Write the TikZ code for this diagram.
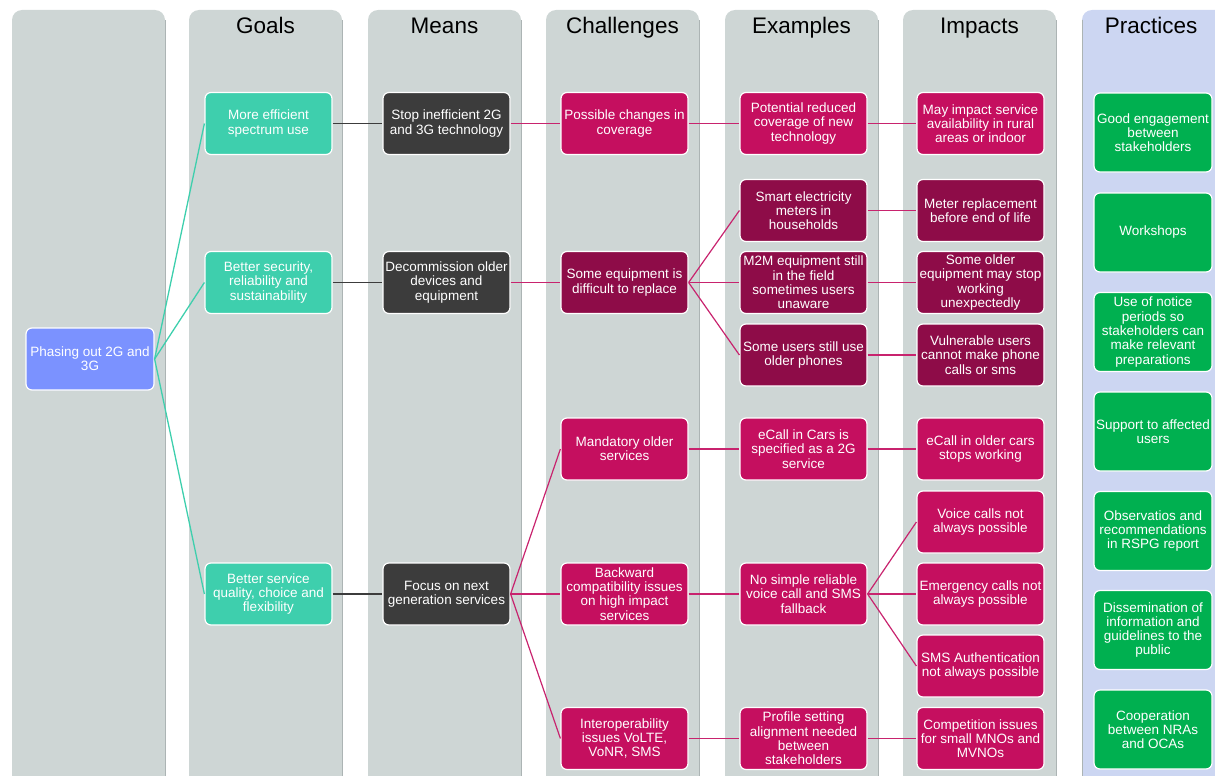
\documentclass[tikz,border=0pt]{standalone}
\usepackage{fontspec}
\setmainfont{Liberation Sans}
\usepackage{tikz}
\definecolor{col}{RGB}{206,214,213}
\definecolor{coledge}{RGB}{172,180,180}
\definecolor{pract}{RGB}{204,214,242}
\definecolor{phasecol}{RGB}{123,146,255}
\definecolor{goalcol}{RGB}{62,207,173}
\definecolor{meancol}{RGB}{60,60,60}
\definecolor{magcol}{RGB}{197,15,95}
\definecolor{maroon}{RGB}{142,12,72}
\definecolor{goodcol}{RGB}{0,176,80}
\definecolor{linkcol}{RGB}{200,35,110}
\newcommand{\drawcolumn}[3]{
    \fill[#2, rounded corners=10pt] (#1,776) -- (#1,10) -- (#1+153,10) -- (#1+153,776);
    \draw[coledge, line width=0.8pt] (#1+153,20) -- (#1+153,776);
    \node[anchor=base, font=\fontsize{22.5}{27}\selectfont] at (#1+76.5,33.5) {#3};
}
\tikzset{
    box/.style={rounded corners=6pt, draw=white, line width=1.2pt, text=white, align=center,
        inner sep=1pt, minimum width=127pt, minimum height=62pt, font=\fontsize{13.5}{14.3}\selectfont},
    phasebox/.style={box, fill=phasecol, minimum width=128pt},
    goalbox/.style={box, fill=goalcol},
    meanbox/.style={box, fill=meancol},
    magbox/.style={box, fill=magcol},
    eqbox/.style={box, fill=maroon},
    goodbox/.style={box, fill=goodcol, minimum width=118pt, minimum height=79pt},
    tealline/.style={goalcol, line width=1.3pt},
    greyline/.style={meancol, line width=1.3pt},
    magline/.style={linkcol, line width=1.2pt}
}

\begin{document}
\begin{tikzpicture}[x=1pt, y=-1pt]
\useasboundingbox (0,0) rectangle (1215,776);
\clip (0,0) rectangle (1215,776);
\drawcolumn{12}{col}{}
\drawcolumn{189}{col}{Goals}
\drawcolumn{368}{col}{Means}
\drawcolumn{546}{col}{Challenges}
\drawcolumn{725}{col}{Examples}
\drawcolumn{903}{col}{Impacts}
\fill[pract, rounded corners=10pt] (1082,776) -- (1082,10) -- (1240,10) -- (1240,776);
\draw[coledge, line width=0.8pt] (1082,20) -- (1082,776);
\node[anchor=base, font=\fontsize{22.5}{27}\selectfont] at (1151,33.5) {Practices};
% start
\node[phasebox] (phase) at (90,359) {Phasing out 2G and\\3G};
% goals
\node[goalbox] (gEff) at (268.5,123.5) {More efficient\\spectrum use};
\node[goalbox] (gSec) at (268.5,282.5) {Better security,\\reliability and\\sustainability};
\node[goalbox] (gSrv) at (268.5,594) {Better service\\quality,  choice and\\flexibility};
% means
\node[meanbox] (mStop) at (446.5,123.5) {Stop inefficient 2G\\and 3G technology};
\node[meanbox] (mDec) at (446.5,282.5) {Decommission older\\devices and\\equipment};
\node[meanbox] (mFoc) at (446.5,594) {Focus on next\\generation services};
% challenges
\node[magbox] (cCov) at (624.5,123.5) {Possible changes in\\coverage};
\node[eqbox] (cEq) at (624.5,282.5) {Some equipment is\\difficult to replace};
\node[magbox] (cMan) at (624.5,449) {Mandatory older\\services};
\node[magbox] (cBack) at (624.5,594) {Backward\\compatibility issues\\on high impact\\services};
\node[magbox] (cInt) at (624.5,738.5) {Interoperability\\issues VoLTE,\\VoNR, SMS};
% examples
\node[magbox] (eCov) at (803.5,123.5) {Potential reduced\\coverage of new\\technology};
\node[eqbox] (eMet) at (803.5,210.5) {Smart electricity\\meters in\\households};
\node[eqbox] (eM2M) at (803.5,282.5) {M2M equipment still\\in the field\\sometimes users\\unaware};
\node[eqbox] (eUse) at (803.5,355) {Some users still use\\older phones};
\node[magbox] (eCar) at (803.5,449) {eCall in Cars is\\specified as a 2G\\service};
\node[magbox] (eVoice) at (803.5,594) {No simple reliable\\voice call and SMS\\fallback};
\node[magbox] (eProf) at (803.5,738.5) {Profile setting\\alignment needed\\between\\stakeholders};
% impacts
\node[magbox] (iCov) at (980.5,123.5) {May impact service\\availability  in rural\\areas or indoor};
\node[eqbox] (iMet) at (980.5,210.5) {Meter replacement\\before end of life};
\node[eqbox] (iM2M) at (980.5,282.5) {Some older\\equipment may stop\\working\\unexpectedly};
\node[eqbox] (iUse) at (980.5,355) {Vulnerable users\\cannot make phone\\calls or sms};
\node[magbox] (iCar) at (980.5,449) {eCall in older cars\\stops working};
\node[magbox] (iVoice) at (980.5,522) {Voice calls not\\always possible};
\node[magbox] (iEmer) at (980.5,594) {Emergency calls not\\always possible};
\node[magbox] (iSms) at (980.5,666) {SMS Authentication\\not always possible};
\node[magbox] (iComp) at (980.5,738.5) {Competition issues\\for small MNOs and\\MVNOs};
% practices
\node[goodbox] (p1) at (1153,132.5) {Good engagement\\between\\stakeholders};
\node[goodbox] (p2) at (1153,232.5) {Workshops};
\node[goodbox] (p3) at (1153,332) {Use of notice\\periods so\\stakeholders can\\make relevant\\preparations};
\node[goodbox] (p4) at (1153,431.5) {Support to affected\\users};
\node[goodbox] (p5) at (1153,531) {Observatios and\\recommendations\\in RSPG report};
\node[goodbox] (p6) at (1153,630) {Dissemination of\\information and\\guidelines to the\\public};
\node[goodbox] (p7) at (1153,729.5) {Cooperation\\between NRAs\\and OCAs};
% links
\foreach \b in {gEff,gSec,gSrv}
    \draw[tealline] (phase.east) -- (\b.west);
\foreach \a/\b in {gEff/mStop,gSec/mDec,gSrv/mFoc}
    \draw[greyline] (\a.east) -- (\b.west);
\foreach \a/\b in {mStop/cCov,mDec/cEq,mFoc/cMan,mFoc/cBack,mFoc/cInt,
    cCov/eCov,cEq/eMet,cEq/eM2M,cEq/eUse,cMan/eCar,cBack/eVoice,cInt/eProf,
    eCov/iCov,eMet/iMet,eM2M/iM2M,eUse/iUse,eCar/iCar,eVoice/iVoice,eVoice/iEmer,eVoice/iSms,eProf/iComp}
    \draw[magline] (\a.east) -- (\b.west);
\end{tikzpicture}
\end{document}
